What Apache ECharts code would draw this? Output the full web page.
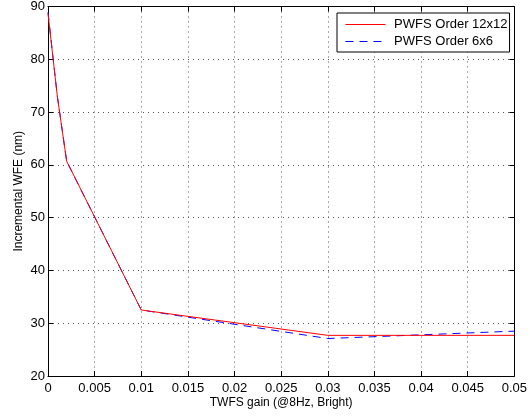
<!DOCTYPE html>
<html>
<head>
<meta charset="utf-8">
<script src="https://cdn.jsdelivr.net/npm/echarts@6/dist/echarts.min.js"></script>
<style>
  html, body { margin: 0; padding: 0; background: #fff; }
  #chart { width: 530px; height: 417px; }
</style>
</head>
<body>
<div id="chart"></div>
<script>
// gain values on the x axis
const gains = [0, 0.001, 0.002, 0.01, 0.03, 0.05];
// incremental WFE (nm)
const order12 = [88.7, 73, 60.7, 32.5, 27.7, 27.7];
const order6 = [88.9, 73, 60.7, 32.5, 27.1, 28.5];
const seriesNames = ['PWFS Order 12x12', 'PWFS Order 6x6'];

const font = 'Liberation Sans, Arial, Helvetica, sans-serif';
const pairs = (ys) => gains.map((g, i) => [g, ys[i]]);

const gridLine = { show: true, lineStyle: { color: '#555', type: [1, 4], width: 1 } };
const inTick = { show: true, inside: true, length: 5, lineStyle: { color: '#000' } };
const blackLine = { show: true, onZero: false, lineStyle: { color: '#000', width: 1 } };

const myChart = echarts.init(document.getElementById('chart'));
const option = {
  animation: false,
  textStyle: { fontFamily: font },
  grid: { left: 48, right: 13, top: 6, bottom: 41, containLabel: false },
  legend: {
    left: 337, top: 13,
    orient: 'vertical',
    data: [
      { name: seriesNames[0], lineStyle: { color: '#ff0000', width: 1 } },
      { name: seriesNames[1], lineStyle: { color: '#0000ff', width: 1, type: [8, 6] } }
    ],
    backgroundColor: '#fff',
    borderColor: '#000',
    borderWidth: 1,
    borderRadius: 0,
    padding: [5, 2, 4, 8],
    itemWidth: 40,
    itemHeight: 12,
    itemGap: 4,
    itemStyle: { opacity: 0 },
    formatter: (name) => ' ' + name,
    textStyle: { fontFamily: font, fontSize: 13, color: '#000' }
  },
  xAxis: [
    {
      type: 'value', min: 0, max: 0.05, interval: 0.005,
      name: 'TWFS gain (@8Hz, Bright)', nameLocation: 'middle', nameGap: 21,
      nameMoveOverlap: false,
      nameTextStyle: { fontFamily: font, fontSize: 12, color: '#000' },
      axisLine: blackLine, axisTick: inTick, splitLine: gridLine,
      axisLabel: { color: '#000', fontSize: 13, margin: 6, formatter: (v) => String(+v.toFixed(3)) }
    },
    {
      type: 'value', min: 0, max: 0.05, interval: 0.005, position: 'top',
      axisLine: blackLine, axisTick: inTick, axisLabel: { show: false }, splitLine: { show: false }
    }
  ],
  yAxis: [
    {
      type: 'value', min: 20, max: 90, interval: 10,
      name: 'Incremental WFE (nm)', nameLocation: 'middle', nameGap: 23,
      nameMoveOverlap: false,
      nameTextStyle: { fontFamily: font, fontSize: 12, color: '#000' },
      axisLine: blackLine, axisTick: inTick, splitLine: gridLine,
      axisLabel: { color: '#000', fontSize: 13, margin: 3 }
    },
    {
      type: 'value', min: 20, max: 90, interval: 10, position: 'right',
      axisLine: blackLine, axisTick: inTick, axisLabel: { show: false }, splitLine: { show: false }
    }
  ],
  series: [
    {
      name: seriesNames[0], type: 'line', symbol: 'none', data: pairs(order12),
      itemStyle: { color: '#ff0000' },
      lineStyle: { color: '#ff0000', width: 1 }, z: 3
    },
    {
      name: seriesNames[1], type: 'line', symbol: 'none', data: pairs(order6),
      itemStyle: { color: '#0000ff' },
      lineStyle: { color: '#0000ff', width: 1, type: [8, 6] }, z: 2
    }
  ]
};
myChart.setOption(option);
</script>
</body>
</html>
